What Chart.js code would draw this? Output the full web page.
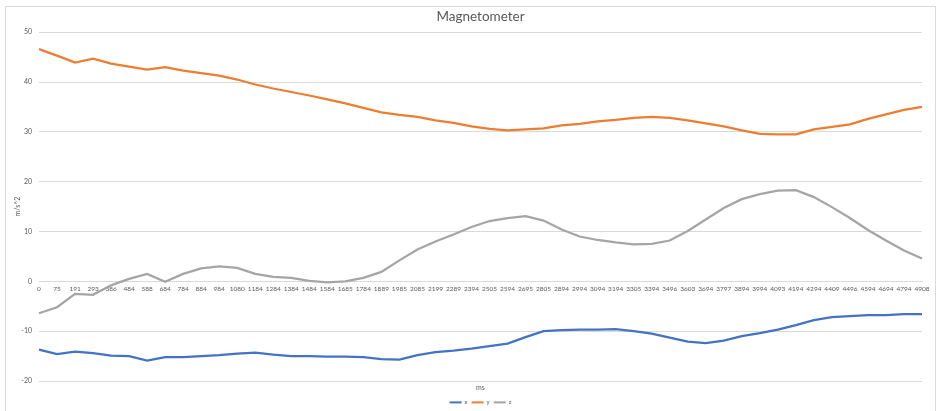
<!DOCTYPE html>
<html lang="en">
<head>
    <meta charset="UTF-8">
    <title>Magnetometer</title>
    <script src="https://cdn.jsdelivr.net/npm/chart.js"></script>
    <style>
        html, body { margin: 0; padding: 0; background: #fff; }
        #wrap { position: relative; width: 937px; height: 411px; overflow: hidden; }
        #frame {
            position: absolute; left: 5px; top: 6px; width: 929px; height: 420px;
            border: 1px solid #d9d9d9; pointer-events: none;
        }
        canvas { position: absolute; left: 0; top: 0; }
    </style>
</head>
<body>
<div id="wrap">
    <canvas id="magChart" width="937" height="411"></canvas>
    <div id="frame"></div>
</div>
<script>
    // time stamps (ms) used as categories
    const timeLabels = [0, 75, 191, 293, 386, 484, 588, 684, 784, 884, 984, 1080, 1184, 1284, 1384,
        1484, 1584, 1685, 1784, 1889, 1985, 2085, 2199, 2289, 2394, 2505, 2594, 2695, 2805, 2894,
        2994, 3094, 3194, 3305, 3394, 3496, 3603, 3694, 3797, 3894, 3994, 4093, 4194, 4294, 4409,
        4496, 4594, 4694, 4794, 4908];

    const xValues = [-13.7, -14.6, -14.1, -14.4, -14.9, -15.0, -15.9, -15.2, -15.2, -15.0, -14.8, -14.5, -14.3,
        -14.7, -15.0, -15.0, -15.1, -15.1, -15.2, -15.6, -15.7, -14.8, -14.2, -13.9, -13.5,
        -13.0, -12.5, -11.2, -10.0, -9.8, -9.7, -9.7, -9.6, -10.0, -10.5, -11.3, -12.1, -12.4,
        -11.9, -11.0, -10.4, -9.7, -8.8, -7.8, -7.2, -7.0, -6.8, -6.8, -6.6, -6.6];

    const yValues = [46.6, 45.3, 43.9, 44.7, 43.7, 43.1, 42.5, 43.0, 42.3, 41.8, 41.3, 40.5, 39.5,
        38.7, 38.0, 37.3, 36.5, 35.7, 34.8, 33.9, 33.4, 33.0, 32.3, 31.8, 31.1,
        30.6, 30.3, 30.5, 30.7, 31.3, 31.6, 32.1, 32.4, 32.8, 33.0, 32.8, 32.3, 31.7,
        31.1, 30.3, 29.6, 29.5, 29.5, 30.5, 31.0, 31.5, 32.6, 33.5, 34.4, 35.0];

    const zValues = [-6.4, -5.2, -2.5, -2.7, -0.8, 0.5, 1.5, -0.1, 1.5, 2.6, 3.0, 2.7, 1.5,
        0.9, 0.7, 0.1, -0.2, 0.0, 0.7, 1.9, 4.2, 6.4, 8.0, 9.4, 10.9,
        12.1, 12.7, 13.1, 12.2, 10.4, 9.0, 8.3, 7.8, 7.4, 7.5, 8.2, 10.1, 12.4,
        14.7, 16.5, 17.5, 18.2, 18.3, 16.9, 14.9, 12.7, 10.3, 8.2, 6.2, 4.6];

    const seriesNames = ['x', 'y', 'z'];
    const seriesColors = ['#4472C4', '#ED7D31', '#A5A5A5'];

    const textColor = '#595959';
    const gridColor = '#d9d9d9';

    Chart.defaults.font.family = "Lato, 'Open Sans', sans-serif";
    Chart.defaults.color = textColor;

    const makeSet = (i, values) => ({
        label: seriesNames[i],
        data: values,
        borderColor: seriesColors[i],
        backgroundColor: seriesColors[i],
        borderWidth: 2.25,
        pointRadius: 0,
        tension: 0
    });

    new Chart(document.getElementById('magChart'), {
        type: 'line',
        data: {
            labels: timeLabels,
            datasets: [makeSet(0, xValues), makeSet(1, yValues), makeSet(2, zValues)]
        },
        options: {
            responsive: false,
            animation: false,
            layout: { padding: { left: 5, right: 15, top: 0, bottom: 0 } },
            plugins: {
                title: {
                    display: true,
                    text: 'Magnetometer',
                    fullSize: false,
                    color: textColor,
                    font: { size: 13.5, weight: 'normal' },
                    padding: { top: 9, bottom: 7 }
                },
                legend: {
                    position: 'bottom',
                    fullSize: false,
                    maxHeight: 30,
                    labels: {
                        boxWidth: 12,
                        boxHeight: 2,
                        padding: 4,
                        font: { size: 6 },
                        color: textColor,
                        // thin line swatches, no outline
                        generateLabels: chart => Chart.defaults.plugins.legend.labels.generateLabels(chart)
                            .map(item => Object.assign(item, { lineWidth: 0 }))
                    },
                    title: {
                        display: true,
                        text: 'ms',
                        color: textColor,
                        font: { size: 7 },
                        padding: { top: 3, bottom: 3 }
                    }
                },
                tooltip: { enabled: false }
            },
            scales: {
                x: {
                    position: { y: 0 },
                    offset: false,
                    grid: { display: false, drawTicks: false },
                    border: { display: true, color: gridColor, width: 1 },
                    ticks: { autoSkip: false, maxRotation: 0, minRotation: 0, padding: 4, font: { size: 6.5 }, color: textColor }
                },
                y: {
                    min: -20,
                    max: 50,
                    afterFit: scale => { scale.width = 34; },
                    grid: { color: gridColor, drawTicks: false },
                    border: { display: false },
                    ticks: { stepSize: 10, padding: 7, font: { size: 7 }, color: textColor },
                    title: { display: true, text: 'm/s^2', font: { size: 7 }, color: textColor, padding: { top: 8.5, bottom: 0 } }
                }
            }
        }
    });
</script>
</body>
</html>
